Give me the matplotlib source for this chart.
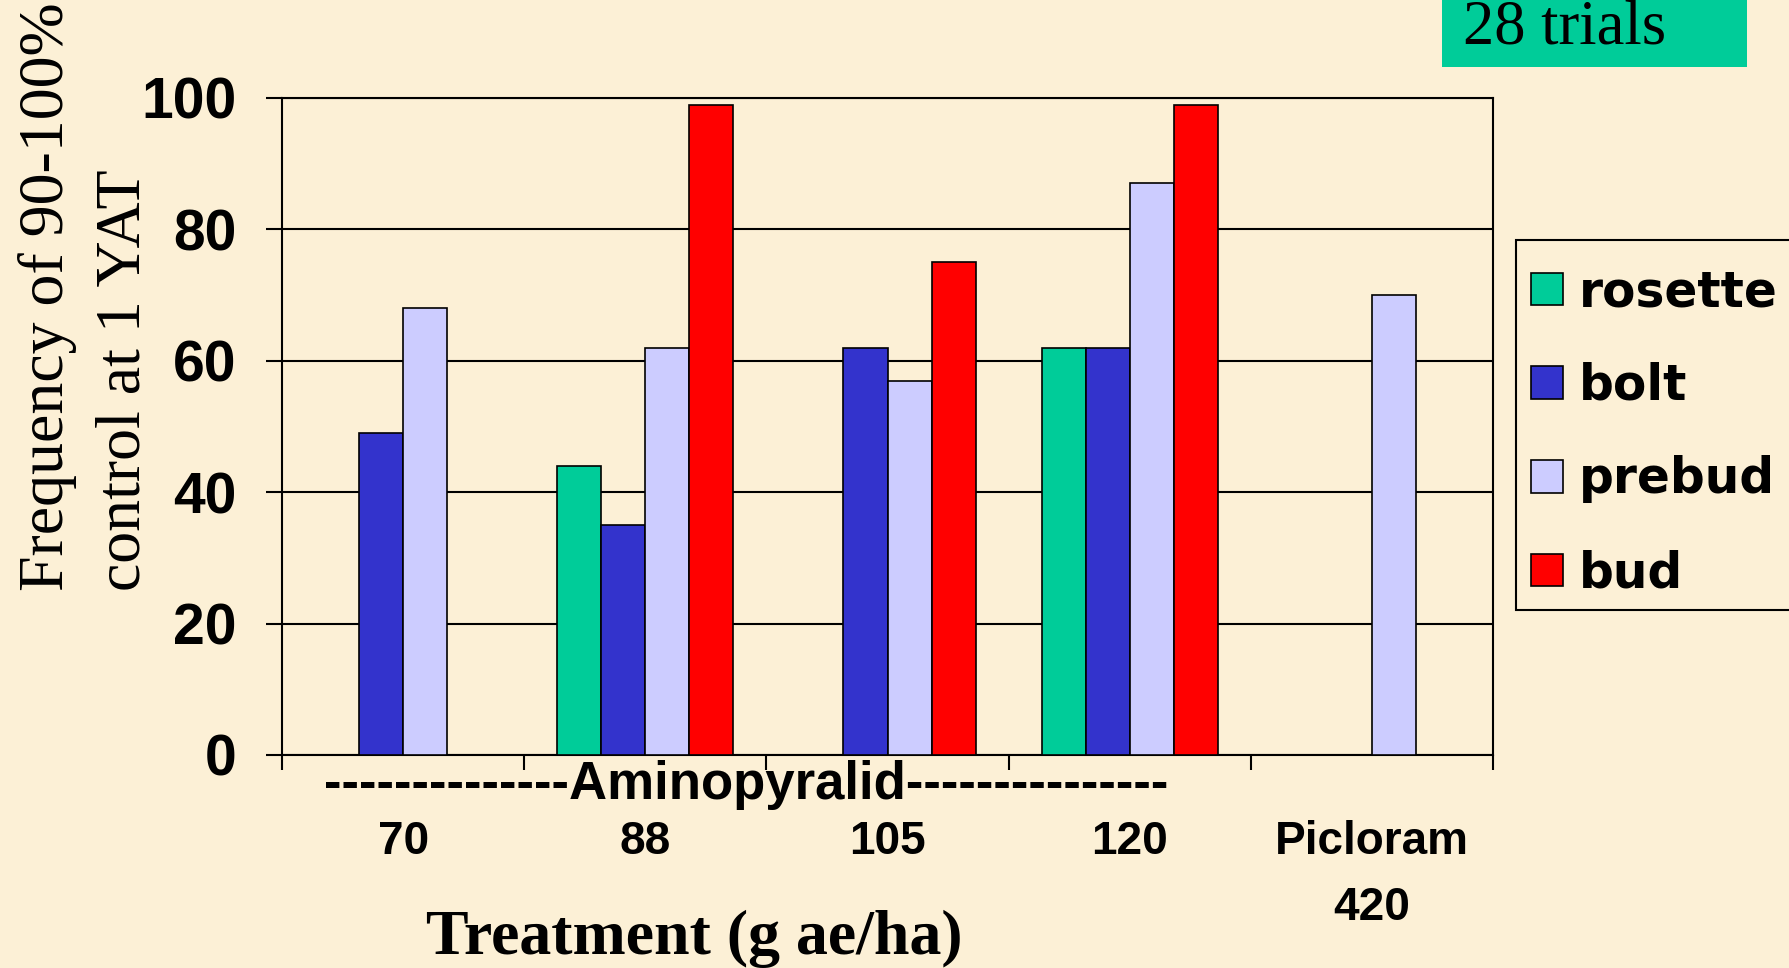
import numpy as np
import matplotlib.pyplot as plt
from matplotlib.patches import Rectangle

# data
groups = ['70', '88', '105', '120', 'Picloram\n420']
stages = ['rosette', 'bolt', 'prebud', 'bud']
rosette = [np.nan, 44, np.nan, 62, np.nan]
bolt = [49, 35, 62, 62, np.nan]
prebud = [68, 62, 57, 87, 70]
bud = [np.nan, 99, 75, 99, np.nan]
yticks = [0, 20, 40, 60, 80, 100]

colors = ['#00CC99', '#3333CC', '#CCCCFF', '#FF0000']
bg = '#FCF0D6'

W, H = 1789, 968
fig = plt.figure(figsize=(W / 100, H / 100), dpi=100)
fig.patch.set_facecolor(bg)
ax = fig.add_axes([282 / W, 1 - 755 / H, (1493 - 282) / W, (755 - 98) / H])
ax.set_facecolor(bg)

x = np.arange(len(groups))
w = 0.182
for i, (vals, lab) in enumerate(zip([rosette, bolt, prebud, bud], stages)):
    ax.bar(x + (i - 1.5) * w, vals, width=w, color=colors[i], edgecolor='black',
           linewidth=1.2, label=lab, zorder=3)

ax.set_ylim(0, 100)
ax.set_xlim(-0.5, len(groups) - 0.5)
ax.set_yticks(yticks)
ax.set_yticklabels([str(v) for v in yticks], fontsize=41, fontweight='bold',
                   family='Liberation Sans')
ax.yaxis.grid(True, color='black', linewidth=1.5, zorder=1)
ax.tick_params(axis='y', length=11.5, width=1.5, pad=21)

ax.set_xticks(x)
ax.set_xticklabels(groups, fontsize=33, fontweight='bold', family='Liberation Sans')
ax.set_xticks(np.arange(-0.5, len(groups)), minor=True)
ax.tick_params(axis='x', which='major', length=0, pad=47)
ax.tick_params(axis='x', which='minor', length=11, width=1.5)
ax.get_xticklabels()[-1].set_linespacing(1.65)

for s in ax.spines.values():
    s.set_linewidth(1.5)
    s.set_color('black')

# Aminopyralid bracket text
fig.text(746 / W, 1 - 785 / H, '-' * 14 + 'Aminopyralid' + '-' * 15, ha='center', va='center',
         fontsize=38, fontweight='bold', family='Liberation Sans')

fig.text(694 / W, 1 - 939 / H, 'Treatment (g ae/ha)', ha='center', va='center',
         fontsize=46, fontweight='bold', family='Liberation Serif')

# y label, two lines left-aligned
fig.text(48 / W, 1 - 591 / H, 'Frequency of 90-100%', rotation=90, ha='center', va='bottom',
         fontsize=46, family='Liberation Serif')
fig.text(125 / W, 1 - 591 / H, 'control at 1 YAT', rotation=90, ha='center', va='bottom',
         fontsize=46, family='Liberation Serif')

# green note box
fig.patches.append(Rectangle((1442 / W, 1 - 67 / H), (1747 - 1442) / W, 80 / H,
                             transform=fig.transFigure, facecolor='#00CC99', edgecolor='none'))
fig.text(1463 / W, 1 - 44 / H, '28 trials', ha='left', va='baseline', fontsize=45,
         family='Liberation Serif')

# legend box drawn separately, runs off the right edge
fig.patches.append(Rectangle((1516 / W, 1 - 610 / H), 400 / W, 370 / H,
                             transform=fig.transFigure, facecolor=bg, edgecolor='black',
                             linewidth=1.5, zorder=2))
leg = fig.legend(loc='upper left', bbox_to_anchor=(1531 / W, 1 - 268 / H), borderaxespad=0,
                 prop={'family': 'DejaVu Sans', 'weight': 'bold', 'size': 35},
                 handlelength=0.66, handleheight=0.66, handletextpad=0.33,
                 labelspacing=0.94, borderpad=0, frameon=False)
leg.set_zorder(3)

fig.savefig('out.png', dpi=100, facecolor=bg)
